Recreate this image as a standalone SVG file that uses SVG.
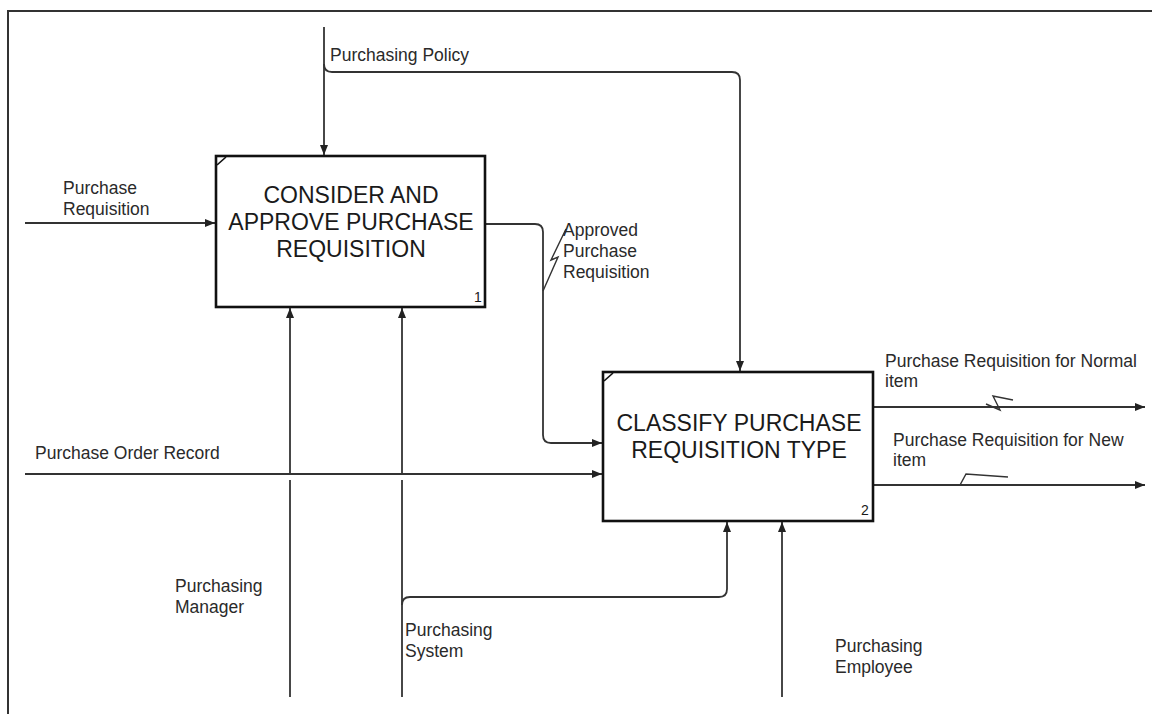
<svg xmlns="http://www.w3.org/2000/svg" width="1152" height="714" viewBox="0 0 1152 714">
  <defs>
    <marker id="arrow" viewBox="0 0 10 8" refX="10" refY="4" markerWidth="10" markerHeight="8" markerUnits="userSpaceOnUse" orient="auto">
      <path d="M0,0 L10,4 L0,8 Z" fill="#222"/>
    </marker>
    <style>
      .frame { fill: none; stroke: #333; stroke-width: 2; }
      .box { fill: #fff; stroke: #111; stroke-width: 2.6; }
      .tick { fill: none; stroke: #111; stroke-width: 1.6; }
      .title { font-family: "Liberation Sans", Arial, sans-serif; font-size: 23px; fill: #1a1a1a; text-anchor: middle; }
      .num { font-family: "Liberation Sans", Arial, sans-serif; font-size: 14px; fill: #1a1a1a; }
      .lbl { font-family: "Liberation Sans", Arial, sans-serif; font-size: 17.5px; fill: #2a2a2a; }
      .arc { fill: none; stroke: #333; stroke-width: 1.8; }
      .squig { fill: none; stroke: #333; stroke-width: 1.4; }
    </style>
  </defs>
  <rect width="1152" height="714" fill="#fff"/>

  <!-- page frame -->
  <path class="frame" d="M8,714 L8,11 L1152,11"/>

  <!-- connectors -->
  <g id="connectors">
    <!-- control: Purchasing Policy -->
    <path class="arc" d="M324,27 L324,155" marker-end="url(#arrow)"/>
    <path class="arc" d="M324,64 Q324,72 332,72 L732,72 Q740,72 740,80 L740,371" marker-end="url(#arrow)"/>
    <!-- input: Purchase Requisition -->
    <path class="arc" d="M25,223 L215,223" marker-end="url(#arrow)"/>
    <!-- output 1 to input 2: Approved Purchase Requisition -->
    <path class="arc" d="M485,224 L535,224 Q543,224 543,232 L543,435 Q543,443 551,443 L602,443" marker-end="url(#arrow)"/>
    <path class="squig" d="M543,291 L558,257 L551,260 L566,229"/>
    <!-- input: Purchase Order Record -->
    <path class="arc" d="M25,474 L602,474" marker-end="url(#arrow)"/>
    <!-- mechanism: Purchasing Manager -->
    <path class="arc" d="M290,697 L290,480"/>
    <path class="arc" d="M290,473 L290,308" marker-end="url(#arrow)"/>
    <!-- mechanism: Purchasing System -->
    <path class="arc" d="M402,697 L402,480"/>
    <path class="arc" d="M402,473 L402,308" marker-end="url(#arrow)"/>
    <path class="arc" d="M402,605 Q402,597 410,597 L719,597 Q727,597 727,589 L727,522" marker-end="url(#arrow)"/>
    <!-- mechanism: Purchasing Employee -->
    <path class="arc" d="M782,697 L782,522" marker-end="url(#arrow)"/>
    <!-- outputs -->
    <path class="arc" d="M873,407 L1145,407" marker-end="url(#arrow)"/>
    <path class="squig" d="M986,404 L1000,410 L993,396 L1013,400"/>
    <path class="arc" d="M873,485 L1145,485" marker-end="url(#arrow)"/>
    <path class="squig" d="M933,485 L960,485 L966,474 L1008,477"/>
  </g>

  <!-- activity 1 -->
  <g id="node-1">
    <rect class="box" x="216" y="156" width="269" height="151"/>
    <path class="tick" d="M217,165 L226,157"/>
    <text class="title" x="351" y="203">CONSIDER AND</text>
    <text class="title" x="351" y="230">APPROVE PURCHASE</text>
    <text class="title" x="351" y="257">REQUISITION</text>
    <text class="num" x="474" y="302">1</text>
  </g>

  <!-- activity 2 -->
  <g id="node-2">
    <rect class="box" x="603" y="372" width="270" height="149"/>
    <path class="tick" d="M604,381 L613,373"/>
    <text class="title" x="739" y="431">CLASSIFY PURCHASE</text>
    <text class="title" x="739" y="458">REQUISITION TYPE</text>
    <text class="num" x="861" y="515">2</text>
  </g>

  <!-- arrow labels -->
  <g id="labels">
    <text class="lbl" x="330" y="61">Purchasing Policy</text>
    <text class="lbl" x="63" y="194">Purchase</text>
    <text class="lbl" x="63" y="215">Requisition</text>
    <text class="lbl" x="563" y="236">Approved</text>
    <text class="lbl" x="563" y="257">Purchase</text>
    <text class="lbl" x="563" y="278">Requisition</text>
    <text class="lbl" x="35" y="459">Purchase Order Record</text>
    <text class="lbl" x="175" y="592">Purchasing</text>
    <text class="lbl" x="175" y="613">Manager</text>
    <text class="lbl" x="405" y="636">Purchasing</text>
    <text class="lbl" x="405" y="657">System</text>
    <text class="lbl" x="835" y="652">Purchasing</text>
    <text class="lbl" x="835" y="673">Employee</text>
    <text class="lbl" x="885" y="367">Purchase Requisition for Normal</text>
    <text class="lbl" x="885" y="387">item</text>
    <text class="lbl" x="893" y="446">Purchase Requisition for New</text>
    <text class="lbl" x="893" y="466">item</text>
  </g>
</svg>
